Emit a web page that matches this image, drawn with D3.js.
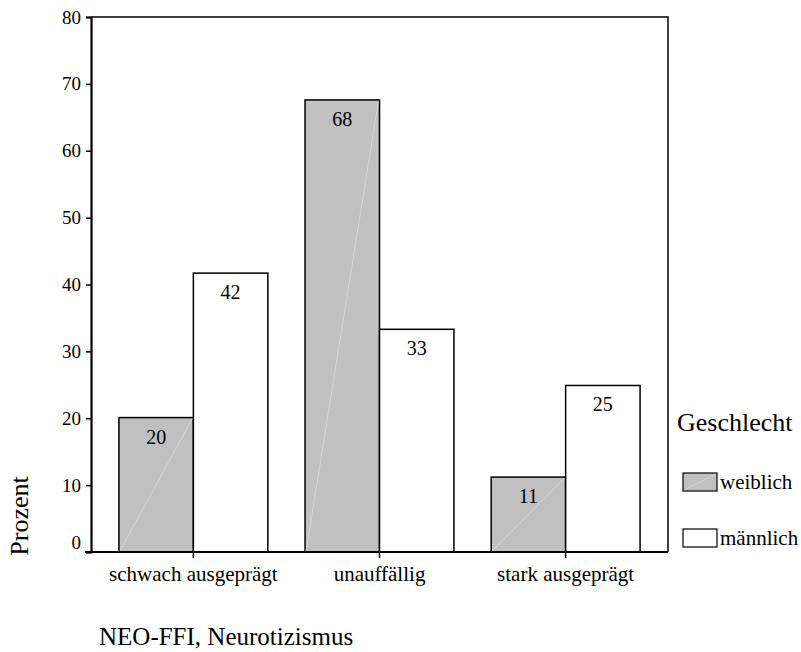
<!DOCTYPE html>
<html>
<head>
<meta charset="utf-8">
<script src="https://cdn.jsdelivr.net/npm/d3@7"></script>
<style>
  html, body { margin: 0; padding: 0; background: #fff; }
  svg text { font-family: "Liberation Serif", "Times New Roman", serif !important; fill: #000; }
</style>
</head>
<body>
<svg id="chart" width="801" height="652"></svg>
<script>
// Percentages per NEO-FFI neuroticism group, split by gender
const categories = ["schwach ausgeprägt", "unauffällig", "stark ausgeprägt"];
const weiblich = [20.1, 67.6, 11.2];
const maennlich = [41.7, 33.3, 24.9];
const seriesNames = ["weiblich", "männlich"];
const yTicks = [0, 10, 20, 30, 40, 50, 60, 70, 80];

const serif = '"Liberation Serif", "Times New Roman", serif';
const svg = d3.select("#chart");
const plotLeft = 91, plotRight = 668, plotTop = 17, plotBottom = 552;

const x = d3.scaleBand().domain(categories).range([plotLeft, plotRight])
  .paddingInner(0.2).paddingOuter(0.15);
const xs = d3.scaleBand().domain(seriesNames).range([0, x.bandwidth()]);
const y = d3.scaleLinear().domain([0, 80]).range([plotBottom, plotTop]);

const fills = { "weiblich": "#c0c0c0", "männlich": "#ffffff" };
const rows = categories.map((c, i) => ({
  cat: c,
  vals: [
    { s: "weiblich", v: weiblich[i] },
    { s: "männlich", v: maennlich[i] }
  ]
}));

// plot frame (top and right edges)
svg.append("path")
  .attr("d", `M${plotLeft},${plotTop}H${plotRight}V${plotBottom}`)
  .attr("fill", "none").attr("stroke", "#000").attr("stroke-width", 1.5);

// bars
const groups = svg.append("g").selectAll("g").data(rows).join("g")
  .attr("transform", d => `translate(${x(d.cat)},0)`);

groups.selectAll("rect").data(d => d.vals).join("rect")
  .attr("x", d => xs(d.s))
  .attr("y", d => y(d.v))
  .attr("width", xs.bandwidth())
  .attr("height", d => y(0) - y(d.v))
  .attr("fill", d => fills[d.s])
  .attr("stroke", "#000").attr("stroke-width", 1.5);

// faint diagonal hatch line across grey bars
groups.selectAll("line.diag").data(d => d.vals.filter(v => v.s === "weiblich")).join("line")
  .attr("class", "diag")
  .attr("x1", d => xs(d.s) + 1).attr("y1", y(0) - 1)
  .attr("x2", d => xs(d.s) + xs.bandwidth() - 1).attr("y2", d => y(d.v) + 1)
  .attr("stroke", "#dadada").attr("stroke-width", 0.8);

// value labels inside the bar tops
groups.selectAll("text.val").data(d => d.vals).join("text")
  .attr("class", "val")
  .attr("x", d => xs(d.s) + xs.bandwidth() / 2)
  .attr("y", d => y(d.v) + 26)
  .attr("text-anchor", "middle")
  .style("font-size", "20px")
  .text(d => d3.format(".0f")(d.v));

// y axis
const yAxis = svg.append("g").attr("transform", `translate(${plotLeft},0)`)
  .call(d3.axisLeft(y).tickValues(yTicks).tickSize(5).tickPadding(5).tickFormat(d3.format("d")))
  .attr("font-family", serif);
yAxis.select(".domain").attr("stroke-width", 2.2);
yAxis.selectAll(".tick line").attr("stroke-width", 1.5);
yAxis.selectAll(".tick text")
  .style("font-family", serif)
  .style("font-size", "19px")
  .attr("dy", d => d === 0 ? "-0.2em" : "0.32em");

// x axis
const xAxis = svg.append("g").attr("transform", `translate(0,${plotBottom})`)
  .call(d3.axisBottom(x).tickSize(6).tickPadding(8))
  .attr("font-family", serif);
xAxis.select(".domain").attr("d", `M${plotLeft - 6},0H${plotRight}`).attr("stroke-width", 2.2);
xAxis.selectAll(".tick line").attr("stroke-width", 1.5);
xAxis.selectAll(".tick text")
  .style("font-family", serif)
  .style("font-size", "21px");

// axis titles
svg.append("text")
  .attr("transform", "translate(28,516) rotate(-90)")
  .attr("text-anchor", "middle")
  .style("font-size", "26px")
  .text("Prozent");

svg.append("text")
  .attr("x", 99).attr("y", 645)
  .style("font-size", "25px")
  .text("NEO-FFI, Neurotizismus");

// legend
const legend = svg.append("g");
legend.append("text")
  .attr("x", 677).attr("y", 431)
  .style("font-size", "26px")
  .text("Geschlecht");

const items = legend.selectAll("g.item").data(seriesNames).join("g")
  .attr("class", "item")
  .attr("transform", (d, i) => `translate(683,${473 + i * 56})`);
items.append("rect")
  .attr("width", 34).attr("height", 18)
  .attr("fill", d => fills[d])
  .attr("stroke", "#000").attr("stroke-width", 1.2);
items.filter(d => d === "weiblich").append("line")
  .attr("x1", 1).attr("y1", 17).attr("x2", 33).attr("y2", 1)
  .attr("stroke", "#dadada").attr("stroke-width", 0.8);
items.append("text")
  .attr("x", 37).attr("y", 16)
  .style("font-size", "21px")
  .text(d => d);
</script>
</body>
</html>
